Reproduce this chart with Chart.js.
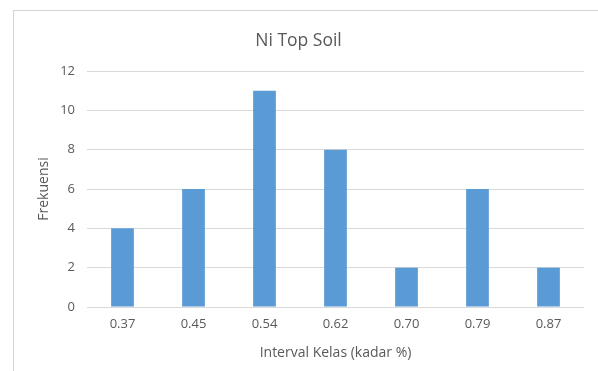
<!DOCTYPE html>
<html>
<head>
<meta charset="utf-8">
<script src="https://cdn.jsdelivr.net/npm/chart.js@4/dist/chart.umd.min.js"></script>
<style>
  html, body { margin: 0; padding: 0; background: #ffffff; }
  body { width: 598px; height: 371px; position: relative; overflow: hidden; }
  #frame {
    position: absolute; left: 13px; top: 10px; width: 600px; height: 380px;
    border-left: 1px solid #d4d4d4; border-top: 1px solid #d4d4d4;
    box-sizing: border-box;
  }
  #wrap { position: absolute; left: 13px; top: 10px; width: 582px; height: 361px; }
</style>
</head>
<body>
<div id="frame"></div>
<div id="wrap"><canvas id="chart" width="582" height="361"></canvas></div>
<script>
// Class intervals (Ni grade, %) and their frequencies
const categories = ['0.37', '0.45', '0.54', '0.62', '0.70', '0.79', '0.87'];
const frequencies = [4, 6, 11, 8, 2, 6, 2];
const yTicks = [0, 2, 4, 6, 8, 10, 12];

const chartTitle = 'Ni Top Soil';
const xTitle = 'Interval Kelas (kadar %)';
const yTitle = 'Frekuensi';

const FONT = '"Open Sans", "Noto Sans", sans-serif';
const TEXT = '#595959';

new Chart(document.getElementById('chart'), {
  type: 'bar',
  data: {
    labels: categories,
    datasets: [{
      label: yTitle,
      data: frequencies,
      backgroundColor: '#5b9bd5',
      borderWidth: 0,
      barPercentage: 0.32,
      categoryPercentage: 1.0
    }]
  },
  options: {
    responsive: false,
    animation: false,
    devicePixelRatio: 1,
    layout: { padding: { left: 0, right: 11, top: 0, bottom: 0 } },
    plugins: {
      legend: { display: false },
      tooltip: { enabled: false },
      title: {
        display: true,
        text: chartTitle,
        color: TEXT,
        font: { family: FONT, size: 17.5, weight: 'normal' },
        padding: { top: 21, bottom: 19 }
      }
    },
    scales: {
      x: {
        grid: { display: false, drawTicks: false },
        border: { display: false },
        ticks: { color: TEXT, font: { family: FONT, size: 13 }, padding: 9, maxRotation: 0 },
        title: {
          display: true, text: xTitle, color: TEXT,
          font: { family: FONT, size: 14 }, padding: { top: 0, bottom: 10 }
        },
        afterFit: (s) => { s.height = 64; }
      },
      y: {
        min: 0, max: 12,
        afterBuildTicks: (s) => { s.ticks = yTicks.map(v => ({ value: v })); },
        grid: { color: '#d9d9d9', drawTicks: false, lineWidth: 1 },
        border: { display: false },
        ticks: { color: TEXT, font: { family: FONT, size: 13 }, padding: 12 },
        title: {
          display: true, text: yTitle, color: TEXT,
          font: { family: FONT, size: 14 }, padding: { top: 23, bottom: 0 }
        },
        afterFit: (s) => { s.width = 74; }
      }
    }
  }
});
</script>
</body>
</html>
